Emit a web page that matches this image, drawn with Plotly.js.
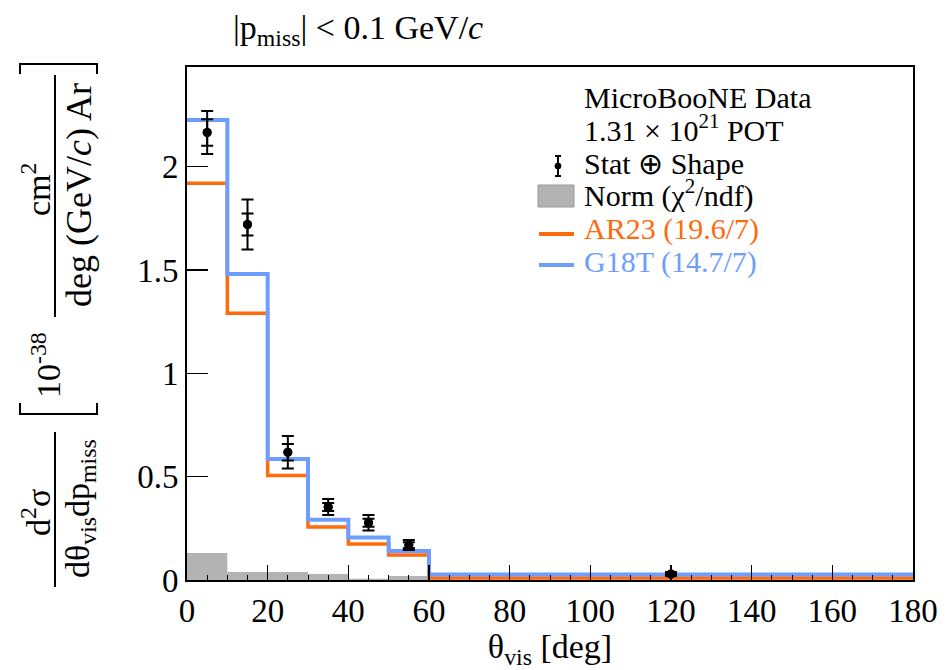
<!DOCTYPE html>
<html>
<head>
<meta charset="utf-8">
<script src="https://cdn.plot.ly/plotly-3.0.1.min.js"></script>
<style>html,body{margin:0;padding:0;background:#fff;}#chart{width:946px;height:670px;}</style>
</head>
<body>
<div id="chart"></div>
<script>
// ---- data ----
const binEdges   = [0, 10, 20, 30, 40, 50, 60, 180];
const binCenters = [5, 15, 25, 35, 45, 55, 120];
const dataValues = [2.165, 1.720, 0.618, 0.353, 0.277, 0.169, 0.029];
const errTotal   = [0.104, 0.121, 0.079, 0.039, 0.037, 0.024, 0.010];
const errStat    = [0.064, 0.053, 0.040, 0.019, 0.019, 0.014, 0.005];
const normValues = [0.131, 0.039, 0.039, 0.029, 0.006, 0.019, 0.002];
const ar23Values = [1.919, 1.291, 0.506, 0.256, 0.174, 0.121, 0.010];
const g18tValues = [2.225, 1.480, 0.585, 0.292, 0.206, 0.140, 0.027];
const xTickVals  = [0, 20, 40, 60, 80, 100, 120, 140, 160, 180];
const yTickVals  = [0, 0.5, 1, 1.5, 2];
const yTickText  = ["0", "0.5", "1", "1.5", "2"];
const legendLabels = ["MicroBooNE Data", "1.31 × 10<sup>21</sup> POT", "Stat ⊕ Shape",
                      "Norm (χ<sup>2</sup>/ndf)", "AR23 (19.6/7)", "G18T (14.7/7)"];

// ---- styles ----
const ORANGE = "#ff6a0d", BLUE = "#6d9eff", GRAY = "#b3b3b3";
const FONT = "'Liberation Serif', 'Times New Roman', serif";
const W = 946, H = 670, L = 187, R = 33, T = 67, B = 90;
const PW = W - L - R, PH = H - T - B;
const px = v => (v - L) / PW;          // pixel x -> paper x
const py = v => (H - B - v) / PH;      // pixel y -> paper y

const widths = binEdges.slice(1).map((e, i) => e - binEdges[i]);
const stepY = arr => arr.concat([arr[arr.length - 1]]);

const traces = [
  { type: "bar", x: binCenters, y: normValues, width: widths, base: 0,
    marker: { color: GRAY, line: { width: 0 } }, hoverinfo: "skip", showlegend: false },
  { type: "scatter", mode: "lines", x: binEdges, y: stepY(ar23Values),
    line: { shape: "hv", color: ORANGE, width: 3.5 }, showlegend: false },
  { type: "scatter", mode: "lines", x: binEdges, y: stepY(g18tValues),
    line: { shape: "hv", color: BLUE, width: 4 }, showlegend: false },
  { type: "scatter", mode: "markers", x: binCenters, y: dataValues,
    marker: { color: "black", size: 9 },
    error_y: { type: "data", array: errTotal, visible: true, color: "black", thickness: 2, width: 6 },
    showlegend: false },
  { type: "scatter", mode: "markers", x: binCenters, y: dataValues,
    marker: { color: "black", size: 9 },
    error_y: { type: "data", array: errStat, visible: true, color: "black", thickness: 2, width: 6 },
    showlegend: false }
];

const ann = [];
const shapes = [];
function txt(text, x, y, size, opts) {
  ann.push(Object.assign({ xref: "paper", yref: "paper", x: px(x), y: py(y), text: text,
    showarrow: false, font: { family: FONT, size: size, color: "black" },
    xanchor: "center", yanchor: "middle" }, opts || {}));
}
function line(x0, y0, x1, y1, color, w) {
  shapes.push({ type: "line", xref: "paper", yref: "paper", x0: px(x0), y0: py(y0), x1: px(x1), y1: py(y1),
    line: { color: color, width: w } });
}

// title
txt("|p<sub>miss</sub>| < 0.1 GeV/<i>c</i>", 231, 30, 34, { xanchor: "left" });

// y-axis title built from pieces (rotated)
const YT = 34;
txt("d<sup>2</sup>σ", 36, 513, YT, { textangle: -90 });
txt("dθ<sub>vis</sub>dp<sub>miss</sub>", 80, 509, YT, { textangle: -90 });
line(55, 432, 55, 587, "black", 2);
txt("10<sup>-38</sup>", 46, 365, YT, { textangle: -90 });
txt("cm<sup>2</sup>", 36, 190, YT, { textangle: -90 });
txt("deg (GeV/<i>c</i>) Ar", 79, 195, 36, { textangle: -90 });
line(55, 75, 55, 317, "black", 2);
shapes.push({ type: "path", xref: "paper", yref: "paper",
  path: `M${px(20)},${py(403)} L${px(20)},${py(414)} L${px(97)},${py(414)} L${px(97)},${py(403)}`,
  line: { color: "black", width: 2 } });
shapes.push({ type: "path", xref: "paper", yref: "paper",
  path: `M${px(20)},${py(74)} L${px(20)},${py(64)} L${px(97)},${py(64)} L${px(97)},${py(74)}`,
  line: { color: "black", width: 2 } });

// legend
const LX = 582, LF = 30;
txt(legendLabels[0], LX, 97, LF, { xanchor: "left" });
txt(legendLabels[1], LX, 128, LF, { xanchor: "left" });
txt(legendLabels[2], LX, 163, LF, { xanchor: "left" });
txt(legendLabels[3], LX, 193, LF, { xanchor: "left" });
txt(legendLabels[4], LX, 229, LF, { xanchor: "left", font: { family: FONT, size: LF, color: ORANGE } });
txt(legendLabels[5], LX, 262, LF, { xanchor: "left", font: { family: FONT, size: LF, color: BLUE } });
line(558, 156, 558, 176, "black", 2);
line(555, 156, 561, 156, "black", 2);
line(555, 176, 561, 176, "black", 2);
shapes.push({ type: "circle", xref: "paper", yref: "paper", x0: px(555), x1: px(561), y0: py(163), y1: py(169),
  fillcolor: "black", line: { color: "black", width: 1 } });
shapes.push({ type: "rect", xref: "paper", yref: "paper", x0: px(538), x1: px(574), y0: py(207), y1: py(185),
  fillcolor: GRAY, line: { color: "#999999", width: 1 } });
line(539, 234, 574, 234, ORANGE, 4);
line(539, 265, 574, 265, BLUE, 4);

const axisCommon = {
  showgrid: false, zeroline: false, showline: true, linecolor: "black", linewidth: 2,
  mirror: true, ticks: "inside", tickcolor: "black", tickwidth: 1.5,
  tickfont: { family: FONT, size: 33, color: "black" }
};

const layout = {
  width: W, height: H,
  margin: { l: L, r: R, t: T, b: B, pad: 0 },
  paper_bgcolor: "white", plot_bgcolor: "white",
  showlegend: false,
  xaxis: Object.assign({}, axisCommon, {
    range: [0, 180], tickmode: "array", tickvals: xTickVals, ticklen: 15,
    minor: { dtick: 5, ticks: "inside", ticklen: 5, tickcolor: "black", tickwidth: 1 },
    title: { text: "θ<sub>vis</sub> [deg]", font: { family: FONT, size: 34, color: "black" }, standoff: 4 }
  }),
  yaxis: Object.assign({}, axisCommon, {
    range: [0, 2.482], tickmode: "array", tickvals: yTickVals, ticktext: yTickText, ticklen: 21,
    title: { text: "" }
  }),
  annotations: ann,
  shapes: shapes
};

Plotly.newPlot("chart", traces, layout, { staticPlot: true, displayModeBar: false });
</script>
</body>
</html>
